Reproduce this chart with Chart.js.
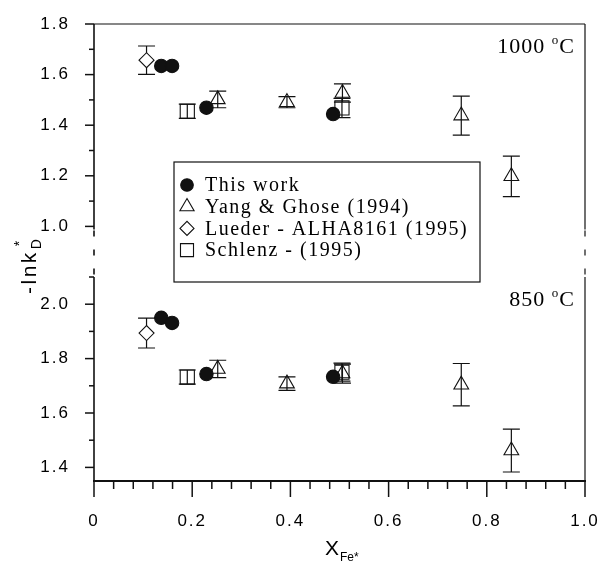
<!DOCTYPE html>
<html>
<head>
<meta charset="utf-8">
<script src="https://cdn.jsdelivr.net/npm/chart.js@4.4.1/dist/chart.umd.min.js"></script>
<style>
  html, body { margin: 0; padding: 0; background: #fff; }
  #wrap { width: 603px; height: 562px; position: relative; }
</style>
</head>
<body>
<div id="wrap"><canvas id="grafico" width="603" height="562"></canvas></div>
<script>
/* =========================
   DATOS
========================= */

// This work
const xThisWork = [0.137, 0.159, 0.229, 0.487];
const thisWork1000 = [1.634, 1.634, 1.469, 1.444];
const thisWork850 = [1.950, 1.931, 1.743, 1.733];

// Yang & Ghose (1994)
const xYang = [0.252, 0.393, 0.506, 0.748, 0.850];
const yang1000 = [1.502, 1.491, 1.527, 1.438, 1.198];
const errYang1000 = [0.033, 0.022, 0.036, 0.077, 0.080];
const yang850 = [1.762, 1.708, 1.745, 1.704, 1.462];
const errYang850 = [0.032, 0.025, 0.035, 0.078, 0.079];

// Lueder - ALHA8161 (1995)
const xLueder = [0.107];
const lueder1000 = [1.657];
const errLueder1000 = [0.056];
const lueder850 = [1.894];
const errLueder850 = [0.055];

// Schlenz - (1995)
const xSchlenz = [0.190, 0.505];
const schlenz1000 = [1.455, 1.468];
const errSchlenz1000 = [0.028, 0.038];
const schlenz850 = [1.732, 1.750];
const errSchlenz850 = [0.026, 0.033];

const etiquetasSerie = ["This work", "Yang & Ghose (1994)", "Lueder - ALHA8161 (1995)", "Schlenz - (1995)"];
const etiquetasTemp = ["1000", "850"];

// marcas de los ejes (las pares llevan texto)
const ticks1000 = [1.0, 1.1, 1.2, 1.3, 1.4, 1.5, 1.6, 1.7, 1.8];
const ticks850 = [1.4, 1.5, 1.6, 1.7, 1.8, 1.9, 2.0, 2.1];
const etiquetasX = ["0", "0.2", "0.4", "0.6", "0.8", "1.0"];

const NEGRO = "#111";
const SANS = "'Liberation Sans', Arial, sans-serif";
const SERIF = "'Liberation Serif', 'Times New Roman', serif";

/* =========================
   DATASETS
========================= */

const estilos = [
  { pointStyle: "circle", radius: 6.7, fill: NEGRO },
  { pointStyle: "triangle", radius: 8.5, fill: "rgba(0,0,0,0)" },
  { pointStyle: "rectRot", radius: 7.5, fill: "#fff" },
  { pointStyle: "rect", radius: 10, fill: "rgba(0,0,0,0)" }
];

function serie(idx, xs, ys, errs, eje, enLeyenda) {
  const e = estilos[idx];
  return {
    label: etiquetasSerie[idx],
    yAxisID: eje,
    data: xs.map((x, i) => ({ x, y: ys[i] })),
    errores: errs,
    enLeyenda,
    estilo: idx,
    pointStyle: e.pointStyle,
    pointRadius: e.radius,
    pointBackgroundColor: e.fill,
    pointBorderColor: NEGRO,
    pointBorderWidth: 1.1,
    showLine: false
  };
}

// El orden importa: el primero se dibuja encima
const datasets = [
  serie(0, xThisWork, thisWork1000, null, "y1000", true),
  serie(1, xYang, yang1000, errYang1000, "y1000", true),
  serie(2, xLueder, lueder1000, errLueder1000, "y1000", true),
  serie(3, xSchlenz, schlenz1000, errSchlenz1000, "y1000", true),
  serie(0, xThisWork, thisWork850, null, "y850", false),
  serie(1, xYang, yang850, errYang850, "y850", false),
  serie(2, xLueder, lueder850, errLueder850, "y850", false),
  serie(3, xSchlenz, schlenz850, errSchlenz850, "y850", false)
];

/* =========================
   PLUGINS
========================= */

function esEntero(v, f) {
  return Math.abs(v * f - Math.round(v * f)) < 1e-6;
}

// Texto de los ejes algo más espaciado (como en el original)
const espaciado = {
  id: "espaciado",
  beforeDraw(chart) { chart.ctx.letterSpacing = "2px"; },
  beforeDatasetsDraw(chart) { chart.ctx.letterSpacing = "0px"; }
};

// Barras de error (debajo de los puntos)
const barrasError = {
  id: "barrasError",
  beforeDatasetsDraw(chart) {
    const ctx = chart.ctx;
    ctx.save();
    ctx.strokeStyle = NEGRO;
    ctx.lineWidth = 1.2;
    chart.data.datasets.forEach((ds, i) => {
      if (!ds.errores) return;
      const meta = chart.getDatasetMeta(i);
      const escala = chart.scales[ds.yAxisID];
      meta.data.forEach((pt, j) => {
        const e = ds.errores[j];
        if (!e) return;
        const y = ds.data[j].y;
        const arriba = escala.getPixelForValue(y + e);
        const abajo = escala.getPixelForValue(y - e);
        ctx.beginPath();
        ctx.moveTo(pt.x, arriba); ctx.lineTo(pt.x, abajo);
        ctx.moveTo(pt.x - 8.5, arriba); ctx.lineTo(pt.x + 8.5, arriba);
        ctx.moveTo(pt.x - 8.5, abajo); ctx.lineTo(pt.x + 8.5, abajo);
        ctx.stroke();
      });
    });
    ctx.restore();
  }
};

// Marco, eje roto y marcas
const marco = {
  id: "marco",
  afterDraw(chart) {
    const { ctx, chartArea: a, scales } = chart;
    const s1000 = scales.y1000, s850 = scales.y850, sx = scales.x;
    const corte = s1000.getPixelForValue(1.0) + 3;
    const inicio850 = s850.top;

    function linea(x1, y1, x2, y2, w) {
      ctx.lineWidth = w;
      ctx.beginPath();
      ctx.moveTo(x1, y1);
      ctx.lineTo(x2, y2);
      ctx.stroke();
    }

    ctx.save();
    ctx.strokeStyle = NEGRO;
    ctx.letterSpacing = "0px";

    // borde superior
    linea(a.left, a.top, a.right, a.top, 1.2);

    // bordes laterales con el corte punteado
    [[a.left, 1.6], [a.right, 1.2]].forEach(([x, w]) => {
      linea(x, a.top, x, corte, w);
      ctx.setLineDash([6, 13]);
      linea(x, corte + 1, x, inicio850, w);
      ctx.setLineDash([]);
      linea(x, inicio850, x, a.bottom, w);
    });

    // eje x
    linea(a.left - 1, a.bottom, a.right + 1, a.bottom, 2);

    // marcas eje y
    [s1000, s850].forEach(s => {
      s.ticks.forEach(t => {
        const py = s.getPixelForValue(t.value);
        const mayor = Math.round(t.value * 10) % 2 === 0;
        linea(a.left, py, a.left - (mayor ? 9 : 5), py, 1.5);
      });
    });

    // marcas eje x
    sx.ticks.forEach(t => {
      const px = sx.getPixelForValue(t.value);
      const mayor = Math.round(t.value * 100) % 20 === 0;
      linea(px, a.bottom, px, a.bottom + (mayor ? 16 : 8), 1.5);
    });

    ctx.fillStyle = "#000";

    // título eje y: -lnk_D*
    ctx.save();
    ctx.translate(36, 294);
    ctx.rotate(-Math.PI / 2);
    ctx.textBaseline = "alphabetic";
    ctx.font = "21px " + SANS;
    ctx.letterSpacing = "2.5px";
    ctx.fillText("-lnk", 0, 0);
    const w = ctx.measureText("-lnk").width;
    ctx.font = "14px " + SANS;
    ctx.letterSpacing = "0px";
    ctx.fillText("D", w + 1, 5);
    ctx.fillText("*", w + 4, -12);
    ctx.restore();

    // título eje x: X_Fe*
    ctx.textBaseline = "alphabetic";
    ctx.font = "21px " + SANS;
    ctx.fillText("X", 325, 555);
    ctx.font = "12px " + SANS;
    ctx.fillText("Fe*", 340, 561);

    // temperaturas
    [[s1000, etiquetasTemp[0]], [s850, etiquetasTemp[1]]].forEach(([s, txt]) => {
      const base = s.top + 29;
      const der = a.right - 11;
      ctx.font = "22px " + SERIF;
      const wC = ctx.measureText("C").width;
      ctx.fillText("C", der - wC, base);
      ctx.font = "13px " + SERIF;
      const wo = ctx.measureText("o").width;
      ctx.fillText("o", der - wC - wo - 1, base - 9);
      ctx.font = "22px " + SERIF;
      ctx.letterSpacing = "1px";
      const wt = ctx.measureText(txt + " ").width;
      ctx.fillText(txt + " ", der - wC - wo - 1 - wt, base);
      ctx.letterSpacing = "0px";
    });

    ctx.restore();
  }
};

// Leyenda en caja
const leyendaCaja = {
  id: "leyendaCaja",
  afterDraw(chart, args, opts) {
    const ctx = chart.ctx;
    ctx.save();
    ctx.fillStyle = "#fff";
    ctx.fillRect(opts.left, opts.top, opts.width, opts.height);
    ctx.strokeStyle = NEGRO;
    ctx.lineWidth = 1.2;
    ctx.strokeRect(opts.left, opts.top, opts.width, opts.height);

    const items = chart.data.datasets.filter(d => d.enLeyenda);
    items.forEach((ds, i) => {
      const y = opts.firstRow + i * opts.rowHeight;
      const e = estilos[ds.estilo];
      ctx.fillStyle = e.fill === NEGRO ? NEGRO : "#fff";
      ctx.strokeStyle = NEGRO;
      ctx.lineWidth = 1.1;
      Chart.helpers.drawPoint(ctx, {
        pointStyle: e.pointStyle,
        radius: opts.radios[ds.estilo],
        borderWidth: 1.1,
        rotation: 0
      }, opts.left + 13, y);

      ctx.fillStyle = "#000";
      ctx.font = "20px " + SERIF;
      ctx.letterSpacing = "1.5px";
      ctx.textBaseline = "middle";
      ctx.fillText(ds.label, opts.left + 31, y + 1);
    });
    ctx.restore();
  }
};

/* =========================
   GRÁFICO
========================= */

Chart.defaults.font.family = SANS;
Chart.defaults.color = "#000";

function ejeY(id, min, max, peso, lista) {
  return {
    type: "linear",
    position: "left",
    stack: "panel",
    stackWeight: peso,
    min, max,
    afterFit: s => { s.width = 94; s.paddingTop = 0; s.paddingBottom = 0; },
    afterBuildTicks: s => { s.ticks = lista.map(v => ({ value: v })); },
    grid: { display: false, drawTicks: false },
    border: { display: false },
    ticks: {
      autoSkip: false,
      padding: 24,
      font: { size: 17 },
      callback: v => Math.round(v * 10) % 2 === 0 ? v.toFixed(1) : ""
    }
  };
}

new Chart(document.getElementById("grafico"), {
  type: "scatter",
  data: { datasets },
  options: {
    responsive: false,
    animation: false,
    layout: { padding: { top: 24, right: 18, left: 0, bottom: 0 } },
    plugins: {
      legend: { display: false },
      tooltip: { enabled: false },
      leyendaCaja: {
        left: 174, top: 162, width: 306, height: 120,
        firstRow: 185, rowHeight: 21.7,
        radios: [6.3, 8.2, 7, 9.2]
      }
    },
    scales: {
      x: {
        type: "linear",
        min: 0, max: 1.0,
        afterFit: s => { s.height = 81; s.paddingLeft = 0; s.paddingRight = 0; },
        grid: { display: false, drawTicks: false },
        border: { display: false },
        ticks: {
          stepSize: 0.04,
          autoSkip: false,
          maxRotation: 0,
          padding: 30,
          font: { size: 17 },
          callback: v => esEntero(v, 5) ? etiquetasX[Math.round(v * 5)] : ""
        }
      },
      // el segundo eje declarado queda arriba en la pila
      y850: ejeY("y850", 1.35, 2.1, 204, ticks850),
      y1000: ejeY("y1000", 0.8, 1.8, 253, ticks1000)
    }
  },
  plugins: [espaciado, barrasError, marco, leyendaCaja]
});
</script>
</body>
</html>
